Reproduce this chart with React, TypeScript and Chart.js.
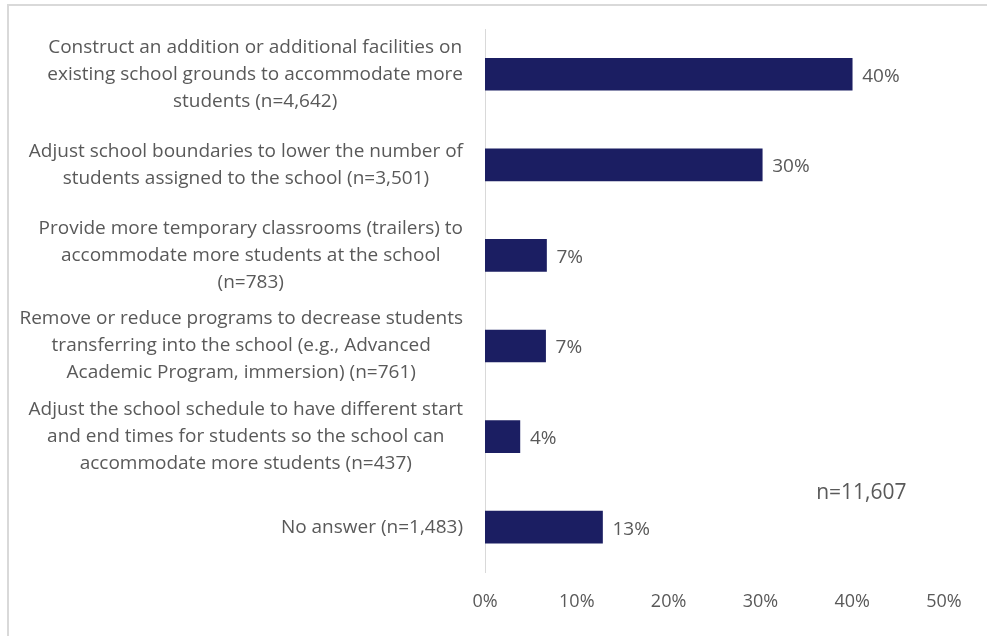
import React, { useEffect, useRef } from "react";
import { Chart, registerables } from "chart.js";

Chart.register(...registerables);

const categories: string[][] = [
  ["Construct an addition or additional facilities on", "existing school grounds to accommodate more", "students (n=4,642)"],
  ["Adjust school boundaries to lower the number of", "students assigned to the school (n=3,501)"],
  ["Provide more temporary classrooms (trailers) to", "accommodate more students at the school", "(n=783)"],
  ["Remove or reduce programs to decrease students", "transferring into the school (e.g., Advanced", "Academic Program, immersion) (n=761)"],
  ["Adjust the school schedule to have different start", "and end times for students so the school can", "accommodate more students (n=437)"],
  ["No answer (n=1,483)"],
];
const values: number[] = [40.0, 30.2, 6.7, 6.6, 3.8, 12.8];
const valueLabels: string[] = ["40%", "30%", "7%", "7%", "4%", "13%"];
const xMin = 0;
const xMax = 50;
const xStep = 10;
const totalNote = "n=11,607";

const FONT = "'Open Sans', Lato, sans-serif";
const TEXT = "#595959";

const labelPlugin = {
  id: "customLabels",
  afterDraw(chart: any) {
    const ctx = chart.ctx;
    const y = chart.scales.y;
    const x = chart.scales.x;
    const area = chart.chartArea;
    ctx.save();
    // category labels: block right-aligned, lines centred within block
    ctx.font = `19px ${FONT}`;
    ctx.fillStyle = TEXT;
    ctx.textBaseline = "middle";
    ctx.textAlign = "center";
    const right = area.left - 22;
    const lh = 27;
    categories.forEach((lines, i) => {
      const cy = y.getPixelForValue(i);
      const w = Math.max(...lines.map((l) => ctx.measureText(l).width));
      const cx = right - w / 2;
      lines.forEach((l, j) => {
        ctx.fillText(l, cx, cy + (j - (lines.length - 1) / 2) * lh);
      });
    });
    // value labels
    ctx.textAlign = "left";
    ctx.font = `19px ${FONT}`;
    const meta = chart.getDatasetMeta(0);
    meta.data.forEach((bar: any, i: number) => {
      ctx.fillText(valueLabels[i], bar.x + 10, bar.y + 2);
    });
    // total note
    ctx.font = `21px ${FONT}`;
    ctx.textAlign = "center";
    ctx.fillText(totalNote, x.getPixelForValue(41.0), y.getPixelForValue(4.62));
    ctx.restore();
  },
};

export default function App() {
  const ref = useRef<HTMLCanvasElement | null>(null);
  useEffect(() => {
    if (!ref.current) return;
    const chart = new Chart(ref.current, {
      type: "bar",
      data: {
        labels: categories.map((c) => c.join(" ")),
        datasets: [
          {
            data: values,
            backgroundColor: "#1b1e62",
            barThickness: 32,
          },
        ],
      },
      options: {
        indexAxis: "y",
        animation: false,
        responsive: false,
        devicePixelRatio: 1,
        layout: { padding: { left: 485, right: 43, top: 29, bottom: 4 } },
        plugins: { legend: { display: false }, tooltip: { enabled: false } },
        scales: {
          x: {
            min: xMin,
            max: xMax,
            grid: { display: false, drawTicks: false },
            border: { display: false },
            ticks: {
              stepSize: xStep,
              padding: 19,
              color: TEXT,
              font: { family: FONT, size: 18 },
              callback: (v: any) => `${v}%`,
            },
          },
          y: {
            grid: { display: false, drawTicks: false },
            border: { display: true, color: "#d9d9d9", width: 1 },
            ticks: { display: false },
          },
        },
      },
      plugins: [labelPlugin],
    });
    return () => chart.destroy();
  }, []);
  return (
    <div style={{ position: "fixed", left: 0, top: 0, width: 987, height: 636, background: "#fff", overflow: "hidden" }}>
      <div
        style={{
          position: "absolute",
          left: 7,
          top: 4,
          width: 1000,
          height: 700,
          borderTop: "2px solid #d9d9d9",
          borderLeft: "2px solid #d9d9d9",
        }}
      />
      <canvas ref={ref} width={987} height={636} style={{ position: "absolute", left: 0, top: 0 }} />
    </div>
  );
}
